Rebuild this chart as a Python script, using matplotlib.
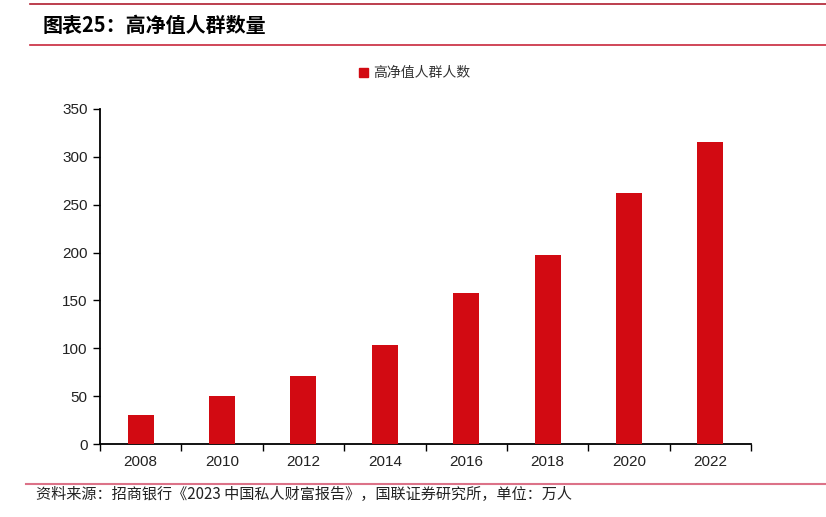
import matplotlib
matplotlib.use("Agg")
import matplotlib.pyplot as plt
from matplotlib.lines import Line2D
from matplotlib.patches import Patch

plt.rcParams['font.family'] = ['Liberation Sans', 'Noto Sans CJK SC', 'DejaVu Sans']

years = ['2008', '2010', '2012', '2014', '2016', '2018', '2020', '2022']
values = [30, 50, 71, 103, 158, 197, 262, 316]
series_name = '高净值人群人数'
title = '图表25：高净值人群数量'
source = '资料来源：招商银行《2023 中国私人财富报告》，国联证券研究所，单位：万人'

fig = plt.figure(figsize=(8.26, 5.17), dpi=100)
ax = fig.add_axes([100/826, 1-444/517, 651/826, 335/517])

x = range(len(years))
ax.bar(x, values, width=0.32, color='#D20A12', label=series_name, zorder=3)
ax.set_xlim(-0.5, len(years)-0.5)
ax.set_ylim(0, 350)
ax.set_yticks(range(0, 351, 50))
ax.set_xticks(list(x))
ax.set_xticklabels(years)
ax.set_xticks([i - 0.5 for i in range(len(years)+1)], minor=True)
ax.tick_params(axis='x', which='major', length=0, pad=8, labelsize=11, labelcolor='#222222')
ax.tick_params(axis='x', which='minor', length=5, width=1, direction='out')
ax.tick_params(axis='y', length=5, width=1, direction='out', labelsize=11, labelcolor='#222222', pad=4)
for s in ['top', 'right']:
    ax.spines[s].set_visible(False)
for s in ['left', 'bottom']:
    ax.spines[s].set_linewidth(1.3)
    ax.spines[s].set_color('black')

leg = fig.legend(handles=[Patch(color='#D20A12', label=series_name)],
                 loc='center', bbox_to_anchor=(415/826, 1-73/517), frameon=False,
                 prop={'family': ['Noto Sans CJK SC', 'DejaVu Sans'], 'size': 10},
                 handlelength=0.6, handleheight=0.6, handletextpad=0.4)
for t in leg.get_texts():
    t.set_color('#333333')

# header / footer lines
fig.add_artist(Line2D([30/826, 1], [1-4/517, 1-4/517], color='#B01E2F', lw=1.2))
fig.add_artist(Line2D([30/826, 1], [1-45/517, 1-45/517], color='#C8283C', lw=1.2))
fig.add_artist(Line2D([26/826, 1], [1-484/517, 1-484/517], color='#DC7288', lw=1.5))

fig.text(43/826, 1-25/517, title, fontsize=14.4, fontweight='bold', va='center', ha='left',
         family=['Noto Sans CJK SC', 'DejaVu Sans'], color='black')
fig.text(36/826, 1-494/517, source, fontsize=10.9, va='center', ha='left',
         family=['Noto Sans CJK SC', 'DejaVu Sans'], color='#222222')

fig.savefig('out.png', dpi=100)
